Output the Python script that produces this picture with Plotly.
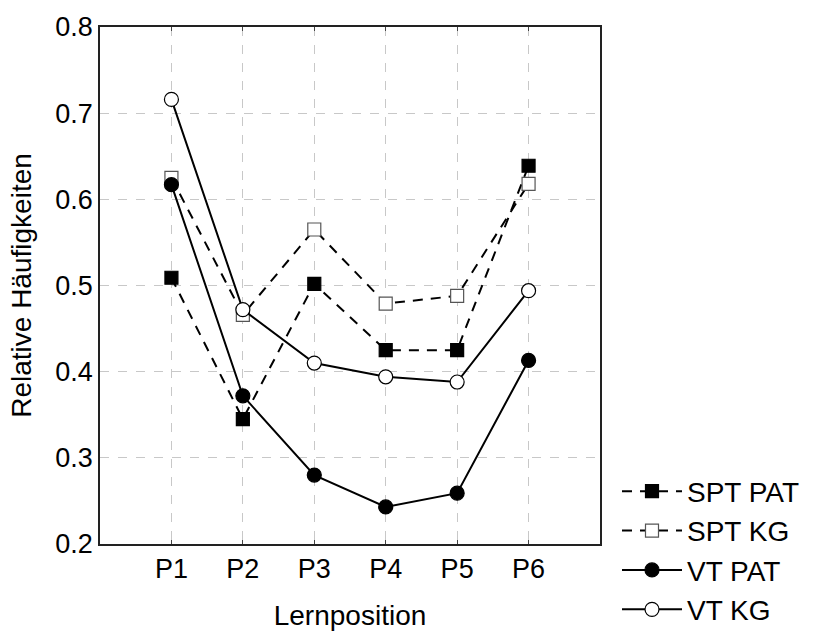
import plotly.graph_objects as go

categories = ["P1", "P2", "P3", "P4", "P5", "P6"]
spt_pat = [0.509, 0.345, 0.502, 0.425, 0.425, 0.639]
spt_kg = [0.625, 0.466, 0.565, 0.479, 0.488, 0.618]
vt_pat = [0.617, 0.372, 0.280, 0.243, 0.259, 0.413]
vt_kg = [0.716, 0.472, 0.410, 0.394, 0.388, 0.494]
y_ticks = [0.2, 0.3, 0.4, 0.5, 0.6, 0.7, 0.8]

FONT = "Arial, Liberation Sans, sans-serif"

series = [
    ("SPT PAT", spt_pat, "square", "black", "black", "10px,8px"),
    ("SPT KG", spt_kg, "square", "white", "#555555", "10px,8px"),
    ("VT PAT", vt_pat, "circle", "black", "black", "solid"),
    ("VT KG", vt_kg, "circle", "white", "black", "solid"),
]

fig = go.Figure()
for i, (name, vals, sym, fill, edge, dash) in enumerate(series):
    fig.add_trace(go.Scatter(
        x=categories, y=vals, name=name, mode="lines+markers",
        line=dict(color="black", width=2, dash=dash),
        marker=dict(symbol=sym, size=14 if sym == "circle" else 13, color=fill,
                    line=dict(color=edge, width=1.2)),
        legendgroup=str(i),
    ))

fig.update_layout(
    width=814, height=631,
    margin=dict(l=100, r=214, t=27, b=87, autoexpand=False),
    paper_bgcolor="white", plot_bgcolor="white",
    font=dict(family=FONT, color="black", size=27),
    showlegend=True,
    legend=dict(x=1.034, xanchor="left", y=0.15, yanchor="top",
                font=dict(size=28, family=FONT), itemwidth=60,
                tracegroupgap=0, traceorder="grouped",
                bgcolor="rgba(0,0,0,0)", borderwidth=0),
)
fig.update_xaxes(
    type="category", categoryarray=categories, range=[-1, 6],
    showgrid=True, gridcolor="#c8c8c8", griddash="dash", gridwidth=1,
    showline=True, linecolor="#222222", linewidth=1.5, mirror="ticks",
    ticks="inside", ticklen=4, tickcolor="#444444",
    tickfont=dict(size=27), zeroline=False,
    title=dict(text="Lernposition", font=dict(size=28), standoff=30),
)
fig.update_yaxes(
    range=[0.2, 0.8], tickvals=y_ticks, tickformat=".1f",
    showgrid=True, gridcolor="#c8c8c8", griddash="dash", gridwidth=1,
    showline=True, linecolor="#222222", linewidth=1.5, mirror="ticks",
    ticks="", tickfont=dict(size=27), zeroline=False,
    title=dict(text="Relative Häufigkeiten", font=dict(size=28), standoff=16),
)

fig.write_html("out.html")
